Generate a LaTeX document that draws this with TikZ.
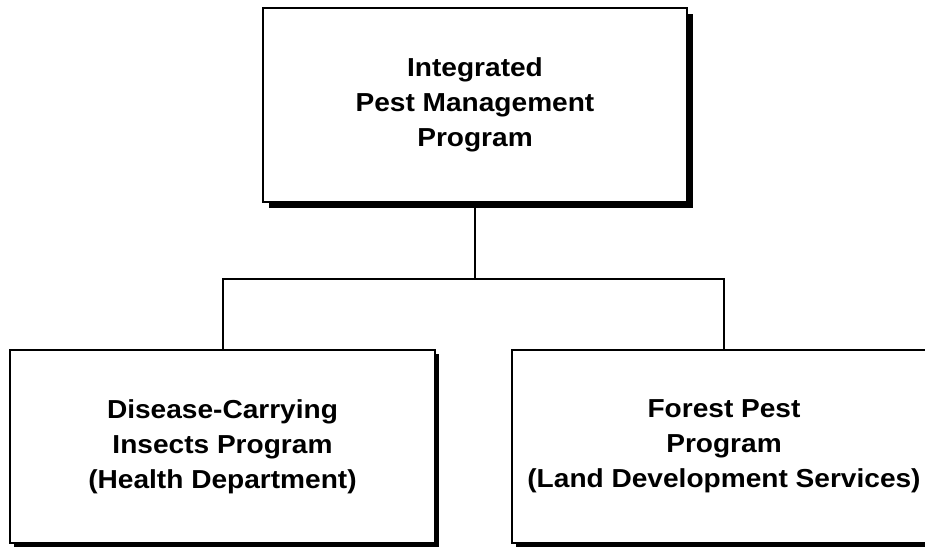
\documentclass[tikz,border=0pt]{standalone}
\usepackage{fontspec}
\setmainfont{Liberation Sans}[FakeStretch=1.08]
\usetikzlibrary{shadows}
\tikzset{
  prog/.style={draw=black, line width=2pt, fill=white, align=center,
    font=\bfseries\fontsize{26}{35}\selectfont, inner sep=0pt},
  topshadow/.style={drop shadow={shadow xshift=6pt, shadow yshift=-6pt, fill=black, opacity=1}},
  lowshadow/.style={drop shadow={shadow xshift=4pt, shadow yshift=-4pt, fill=black, opacity=1}},
  link/.style={draw=black, line width=2pt}
}
\begin{document}
\begin{tikzpicture}[x=1pt,y=-1pt]
\useasboundingbox (0,0) rectangle (925,548);
\node[prog, topshadow, minimum width=424pt, minimum height=194pt] (top) at (475,105)
  {Integrated\\Pest Management\\Program};
\node[prog, lowshadow, minimum width=425pt, minimum height=193pt] (left) at (222.5,446.5)
  {Disease-Carrying\\Insects Program\\(Health Department)};
\node[prog, lowshadow, minimum width=425pt, minimum height=193pt] (right) at (724,446.5)
  {Forest Pest\\Program\\(Land Development Services)};
\coordinate (bar) at (475,279);
\draw[link] (top.south) -- (top.south |- bar);
\draw[link] (left.north) -- (left.north |- bar) -- (right.north |- bar) -- (right.north);
\end{tikzpicture}
\end{document}
